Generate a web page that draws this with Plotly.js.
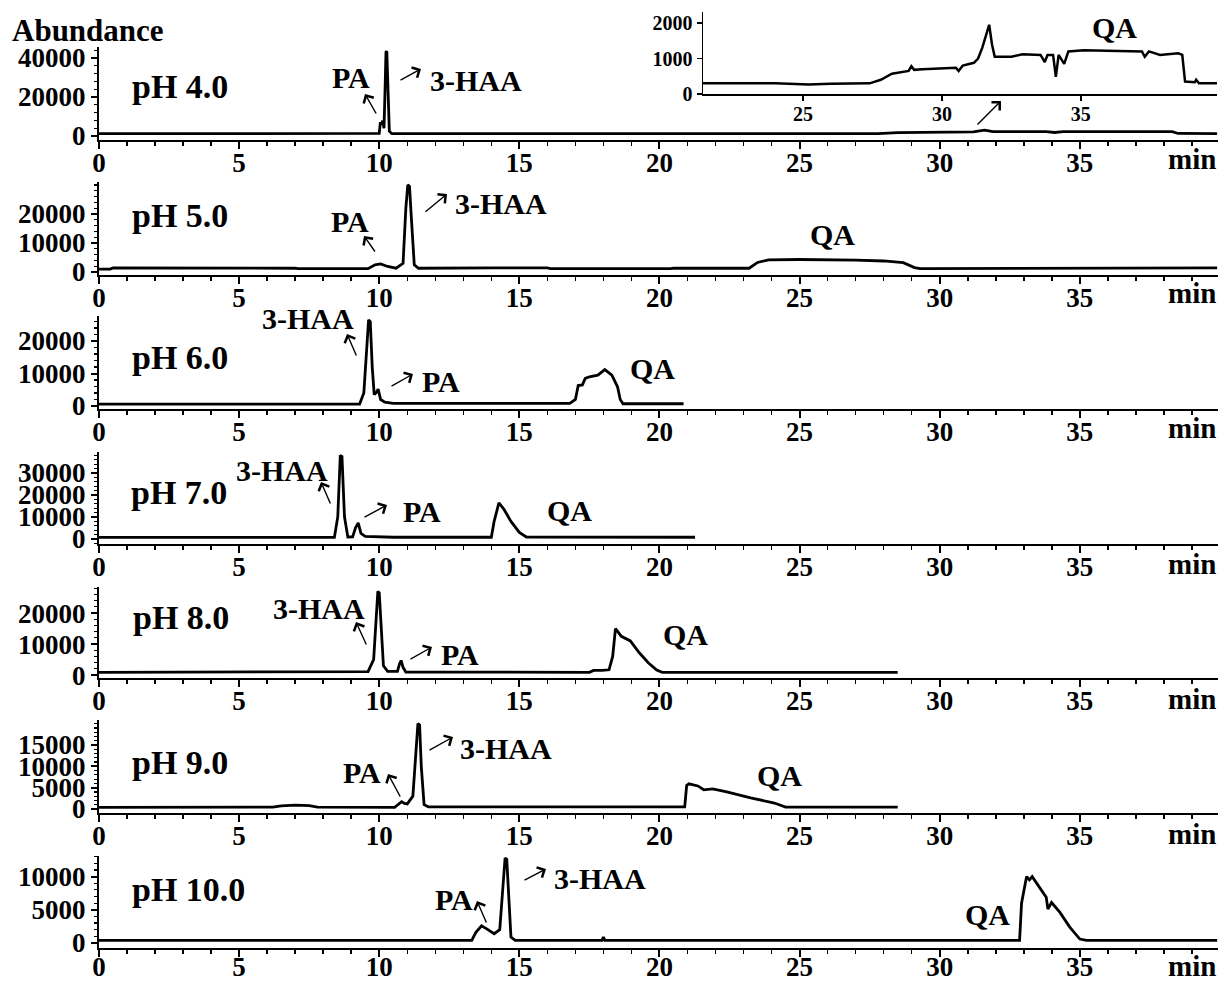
<!DOCTYPE html>
<html>
<head>
<meta charset="utf-8">
<script src="https://cdn.plot.ly/plotly-3.0.1.min.js"></script>
<style>html,body{margin:0;padding:0;background:#fff;}#chart{width:1222px;height:984px;}</style>
</head>
<body>
<div id="chart"></div>
<script>
// ---------- data (retention time in min, abundance) ----------
const t4 = [0, 3, 6, 9.9, 10.0, 10.04, 10.08, 10.12, 10.17, 10.21, 10.24, 10.27, 10.31, 10.36, 10.45, 14, 20, 27.8, 28.5, 30.5, 31.2, 31.6, 31.9, 33.8, 34.1, 34.4, 38.3, 38.5, 39.9];
const a4 = [1200, 1200, 1200, 1200, 1300, 7000, 6000, 7800, 4000, 25000, 43000, 43500, 20000, 2500, 1200, 1200, 1200, 1200, 1700, 1800, 2100, 3000, 2200, 2200, 1800, 2200, 2200, 1300, 1200];

const tInset = [21.4, 24, 25.2, 26, 27.4, 27.8, 28.2, 28.5, 28.8, 28.9, 29.0, 29.3, 30.0, 30.5, 30.6, 30.75, 31.15, 31.3, 31.45, 31.7, 31.8, 31.9, 32.5, 32.9, 33.55, 33.7, 33.8, 34.0, 34.1, 34.2, 34.4, 34.55, 35.1, 36.5, 37.2, 37.3, 37.45, 37.85, 38.5, 38.65, 38.75, 39.1, 39.15, 39.25, 39.9];
const aInset = [300, 300, 270, 290, 300, 400, 570, 620, 650, 780, 680, 700, 720, 740, 650, 800, 880, 1000, 1300, 1950, 1400, 1050, 1050, 1120, 1100, 900, 1100, 1100, 480, 1100, 850, 1200, 1230, 1200, 1200, 1050, 1200, 1100, 1150, 1100, 350, 330, 400, 300, 300];

const t5 = [0, 0.4, 0.5, 1.5, 1.6, 3.0, 3.1, 5.0, 5.1, 7.0, 7.1, 9.6, 9.85, 10.05, 10.3, 10.6, 10.85, 10.95, 11.02, 11.08, 11.15, 11.25, 11.4, 14.0, 14.1, 16.0, 16.1, 20.4, 20.5, 23.2, 23.5, 23.9, 25, 27, 28, 28.7, 29.1, 29.3, 35.8, 35.9, 39.9];
const a5 = [1000, 1000, 1400, 1400, 1200, 1200, 1450, 1450, 1300, 1300, 1150, 1150, 2500, 2800, 1900, 1300, 3000, 22000, 30000, 29500, 18000, 2500, 1300, 1200, 1400, 1400, 1200, 1200, 1350, 1300, 3300, 4200, 4300, 4100, 3800, 3200, 1500, 1200, 1200, 1400, 1400];

const t6 = [0, 9.3, 9.45, 9.55, 9.62, 9.68, 9.75, 9.82, 9.9, 9.96, 10.05, 10.2, 10.5, 16.8, 17.0, 17.1, 17.25, 17.35, 17.5, 17.8, 18.05, 18.3, 18.5, 18.6, 18.7, 20.86];
const a6 = [600, 600, 4000, 18000, 26500, 26000, 12000, 3500, 4200, 5200, 2000, 1200, 800, 800, 2000, 6300, 6500, 8500, 9000, 9500, 11200, 9500, 6000, 2000, 700, 700];

const t7 = [0, 8.4, 8.52, 8.61, 8.67, 8.76, 8.88, 9.05, 9.15, 9.25, 9.35, 9.5, 10.5, 14.0, 14.1, 14.27, 14.45, 14.7, 15.0, 15.25, 21.27];
const a7 = [700, 700, 10000, 38000, 37500, 10000, 900, 1000, 5000, 7300, 2500, 1200, 800, 800, 8000, 16400, 13500, 8000, 3000, 900, 800];

const t8 = [0, 7.8, 7.9, 9.6, 9.8, 9.9, 9.95, 10.0, 10.05, 10.15, 10.3, 10.65, 10.72, 10.78, 10.85, 10.95, 17.5, 17.65, 17.95, 18.2, 18.33, 18.43, 18.64, 18.96, 19.28, 19.6, 19.9, 20.1, 28.5];
const a8 = [900, 900, 1100, 1100, 5000, 18000, 27000, 26500, 18000, 3000, 1200, 1200, 3500, 4700, 2500, 1000, 900, 1500, 1500, 1700, 6000, 15000, 12500, 11000, 7200, 4000, 1600, 900, 900];

const t9 = [0, 6.2, 6.5, 7.0, 7.5, 7.8, 10.55, 10.7, 10.8, 10.9, 11.0, 11.2, 11.3, 11.38, 11.44, 11.5, 11.6, 11.75, 20.9, 20.97, 21.05, 21.37, 21.58, 21.9, 22.4, 23.25, 24.1, 24.5, 28.5];
const a9 = [400, 450, 750, 900, 800, 450, 400, 1200, 1700, 1300, 1200, 3000, 12000, 20000, 19700, 10000, 1000, 500, 500, 5500, 5900, 5400, 4500, 4700, 4000, 2600, 1400, 450, 450];

const t10 = [0, 13.3, 13.45, 13.65, 13.85, 14.1, 14.3, 14.42, 14.49, 14.55, 14.62, 14.7, 14.85, 17.95, 18.0, 18.05, 32.85, 32.92, 33.1, 33.2, 33.3, 33.57, 33.8, 33.86, 33.99, 34.29, 34.64, 35.0, 35.24, 39.9];
const a10 = [400, 400, 1600, 2600, 2100, 1400, 2000, 8000, 12800, 12600, 6000, 900, 400, 400, 900, 400, 400, 6000, 10000, 9500, 10000, 8400, 6900, 5100, 6100, 4600, 2400, 600, 400, 400];

const phLabels = ["pH 4.0", "pH 5.0", "pH 6.0", "pH 7.0", "pH 8.0", "pH 9.0", "pH 10.0"];
const xTickStep = 5;
const yTickVals = [
  [0, 20000, 40000],
  [0, 10000, 20000],
  [0, 10000, 20000],
  [0, 10000, 20000, 30000],
  [0, 10000, 20000],
  [0, 5000, 10000, 15000],
  [0, 5000, 10000]
];
const yMinorSteps = [4000, 2000, 2000, 2000, 2000, 1000, 1000];
const insetYTicks = [0, 1000, 2000];

// ---------- layout geometry (pixels) ----------
const W = 1222, H = 984;
const F = "Liberation Serif, 'Times New Roman', serif";
const px = v => v / W;
const py = v => 1 - v / H;

const series = [[t4, a4], [t5, a5], [t6, a6], [t7, a7], [t8, a8], [t9, a9], [t10, a10]];
const panelTop = [47, 182, 316, 452, 587, 720, 856];
const panelBot = [140, 275, 409, 544, 678, 813, 948];
const yRanges = [[-2050, 45640], [-1030, 31000], [-920, 27700], [-2270, 39500], [-940, 28400], [-940, 20850], [-750, 13100]];
const xRange = [0, 39.93];

const traces = [];
const layout = {
  width: W, height: H,
  margin: {l: 0, r: 0, t: 0, b: 0},
  paper_bgcolor: '#fff', plot_bgcolor: 'rgba(0,0,0,0)',
  showlegend: false,
  annotations: []
};

const tickFont = size => ({family: F, size: size, color: '#000', weight: 'bold'});

series.forEach((s, i) => {
  const n = i + 1;
  const xa = 'xaxis' + (n === 1 ? '' : n), ya = 'yaxis' + (n === 1 ? '' : n);
  const xid = 'x' + (n === 1 ? '' : n), yid = 'y' + (n === 1 ? '' : n);
  traces.push({x: s[0], y: s[1], xaxis: xid, yaxis: yid, type: 'scatter', mode: 'lines',
    line: {color: '#000', width: 2.8}, hoverinfo: 'skip'});
  layout[xa] = {
    domain: [px(99), px(1218)], range: xRange, anchor: yid,
    tickmode: 'linear', tick0: 0, dtick: xTickStep,
    ticks: 'outside', ticklen: 7, tickwidth: 2, tickcolor: '#000',
    ticklabelstandoff: n === 7 ? -13 : -9,
    minor: {tickmode: 'linear', tick0: 0, dtick: 1, ticks: 'outside', ticklen: 4, tickwidth: 1.5, tickcolor: '#000', showgrid: false},
    showline: true, linewidth: 2, linecolor: '#000',
    showgrid: false, zeroline: false, fixedrange: true,
    tickfont: tickFont(27)
  };
  layout[ya] = {
    domain: [py(panelBot[i]), py(panelTop[i])], range: yRanges[i], anchor: xid,
    tickmode: 'array', tickvals: yTickVals[i], tickformat: 'd',
    ticks: 'outside', ticklen: 6, tickwidth: 2, tickcolor: '#000',
    minor: {tickmode: 'linear', tick0: 0, dtick: yMinorSteps[i], ticks: 'outside', ticklen: 3, tickwidth: 1.2, tickcolor: '#000', showgrid: false},
    showline: true, linewidth: 2, linecolor: '#000',
    showgrid: false, zeroline: false, fixedrange: true,
    tickfont: tickFont(27)
  };
});

// inset (pH 4.0 zoom on QA)
traces.push({x: tInset, y: aInset, xaxis: 'x8', yaxis: 'y8', type: 'scatter', mode: 'lines',
  line: {color: '#000', width: 2.5}, hoverinfo: 'skip'});
layout.xaxis8 = {
  domain: [px(703), px(1217)], range: [21.4, 39.9], anchor: 'y8',
  tickmode: 'linear', tick0: 0, dtick: xTickStep,
  ticks: 'outside', ticklen: 5, tickwidth: 1.5, tickcolor: '#000',
  ticklabelstandoff: -4,
  showline: true, linewidth: 1.5, linecolor: '#000',
  showgrid: false, zeroline: false, fixedrange: true,
  tickfont: tickFont(20)
};
layout.yaxis8 = {
  domain: [py(94), py(12)], range: [0, 2310], anchor: 'x8',
  tickmode: 'array', tickvals: insetYTicks, tickformat: 'd',
  ticks: 'outside', ticklen: 5, tickwidth: 1.5, tickcolor: '#000',
  showline: true, linewidth: 1.5, linecolor: '#000',
  showgrid: false, zeroline: false, fixedrange: true,
  tickfont: tickFont(20)
};

// ---------- text labels & arrows ----------
const lab = (text, x, y, size) => ({
  xref: 'paper', yref: 'paper', x: px(x), y: py(y), text: '<b>' + text + '</b>',
  showarrow: false, xanchor: 'center', yanchor: 'middle',
  font: {family: F, size: size, color: '#000'}
});
const arr = (tx, ty, hx, hy) => ({
  xref: 'paper', yref: 'paper', x: px(hx), y: py(hy), ax: tx - hx, ay: ty - hy,
  text: '', showarrow: true, arrowhead: 4, arrowsize: 1.6, arrowwidth: 1.4, arrowcolor: '#000', standoff: 0
});

const A = layout.annotations;
A.push(lab('Abundance', 88, 30, 31));
const phPos = [[180, 87], [180, 215], [180, 357], [179, 492], [181, 617], [180, 762], [188, 889]];
phLabels.forEach((t, i) => A.push(lab(t, phPos[i][0], phPos[i][1], 34)));
const minY = [159, 293, 428, 564, 699, 834, 966];
minY.forEach(y => A.push(lab('min', 1192, y, 29)));

// pH 4.0
A.push(lab('PA', 351, 78, 30), arr(377, 115, 365, 94));
A.push(lab('3-HAA', 476, 80, 30), arr(399, 81, 421, 69));
A.push(lab('QA', 1114, 27, 30), arr(976, 126, 1001, 101));
// pH 5.0
A.push(lab('PA', 350, 222, 30), arr(376, 253, 364, 236));
A.push(lab('3-HAA', 501, 203, 30), arr(424, 213, 447, 194));
A.push(lab('QA', 832, 234, 30));
// pH 6.0
A.push(lab('3-HAA', 308, 318, 30), arr(357, 357, 347, 334));
A.push(lab('PA', 441, 381, 30), arr(390, 387, 413, 374));
A.push(lab('QA', 652, 368, 30));
// pH 7.0
A.push(lab('3-HAA', 282, 470, 30), arr(331, 505, 321, 482));
A.push(lab('PA', 422, 511, 30), arr(363, 518, 387, 505));
A.push(lab('QA', 569, 510, 30));
// pH 8.0
A.push(lab('3-HAA', 319, 608, 30), arr(367, 646, 356, 622));
A.push(lab('PA', 460, 654, 30), arr(409, 660, 432, 647));
A.push(lab('QA', 685, 634, 30));
// pH 9.0
A.push(lab('PA', 362, 772, 30), arr(401, 798, 388, 774));
A.push(lab('3-HAA', 506, 748, 30), arr(428, 751, 453, 737));
A.push(lab('QA', 779, 775, 30));
// pH 10.0
A.push(lab('PA', 454, 899, 30), arr(487, 924, 477, 901));
A.push(lab('3-HAA', 600, 878, 30), arr(523, 881, 546, 869));
A.push(lab('QA', 987, 914, 30));

Plotly.newPlot('chart', traces, layout, {staticPlot: true, displayModeBar: false});
</script>
</body>
</html>
